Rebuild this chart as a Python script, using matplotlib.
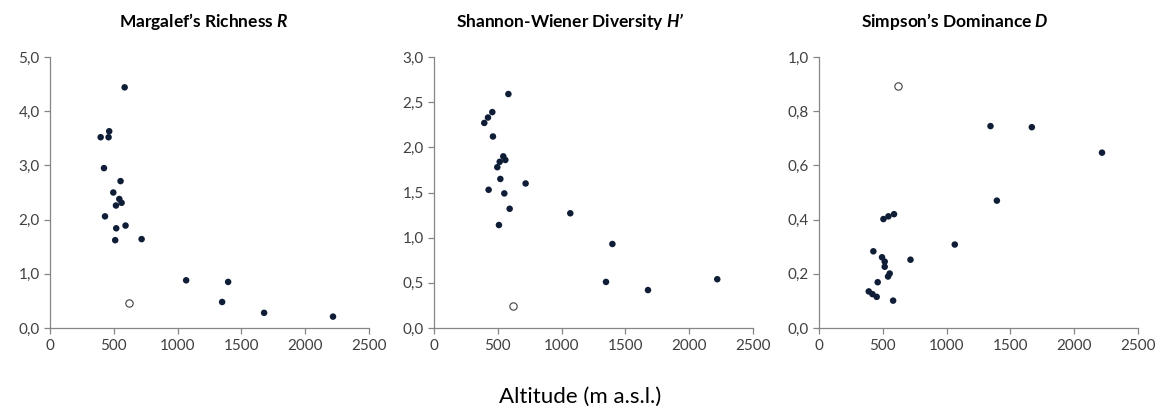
import numpy as np
import matplotlib.pyplot as plt

plt.rcParams["font.family"] = ["Lato", "DejaVu Sans"]
plt.rcParams["mathtext.fontset"] = "custom"
plt.rcParams["mathtext.rm"] = "Lato"
plt.rcParams["mathtext.it"] = "Lato:italic"
plt.rcParams["mathtext.bf"] = "Lato:bold"
plt.rcParams["mathtext.bfit"] = "Lato:bold:italic"

# altitude (m a.s.l.) and index values
richness_alt = [585, 397, 459, 464, 423, 553, 496, 543, 561, 517,
                431, 592, 519, 511, 718, 1067, 1396, 1349, 1678, 2218]
richness_val = [4.44, 3.52, 3.52, 3.63, 2.95, 2.71, 2.50, 2.38, 2.31, 2.26,
                2.06, 1.89, 1.84, 1.62, 1.64, 0.88, 0.85, 0.48, 0.28, 0.21]
richness_open = (621, 0.47)

shannon_alt = [583, 394, 423, 457, 462, 543, 559, 515, 496, 520,
               428, 551, 718, 593, 509, 1068, 1398, 1348, 1677, 2220]
shannon_val = [2.59, 2.27, 2.33, 2.39, 2.12, 1.90, 1.86, 1.84, 1.78, 1.65,
               1.53, 1.49, 1.60, 1.32, 1.14, 1.27, 0.93, 0.51, 0.42, 0.54]
shannon_open = (619, 0.24)

simpson_alt = [1344, 1668, 2218, 1394, 1064, 717, 505, 544, 588, 426,
               494, 515, 515, 554, 541, 460, 390, 419, 452, 581]
simpson_val = [0.745, 0.741, 0.647, 0.470, 0.308, 0.252, 0.402, 0.412, 0.420, 0.283,
               0.261, 0.245, 0.226, 0.201, 0.190, 0.169, 0.135, 0.125, 0.115, 0.101]
simpson_open = (617, 0.894)

titles = [r"Margalef’s Richness $\mathbfit{R}$",
          r"Shannon-Wiener Diversity $\mathbfit{H’}$",
          r"Simpson’s Dominance $\mathbfit{D}$"]
ymax = [5.0, 3.0, 1.0]
ystep = [1.0, 0.5, 0.2]
xticks = [0, 500, 1000, 1500, 2000, 2500]

panels = [
    (richness_alt, richness_val, richness_open),
    (shannon_alt, shannon_val, shannon_open),
    (simpson_alt, simpson_val, simpson_open),
]

fig = plt.figure(figsize=(11.61, 4.16), dpi=100)
lefts = [50 / 1161, 434 / 1161, 819 / 1161]
title_x = [204 / 1161, 570 / 1161, 955 / 1161]
axis_col = "#868686"
text_col = "#404040"

for i, (alt, val, op) in enumerate(panels):
    ax = fig.add_axes([lefts[i], 88 / 416, 319 / 1161, 271 / 416])
    ax.scatter(alt, val, s=22, color="#0f1e36", edgecolors="none", zorder=3)
    ax.scatter([op[0]], [op[1]], s=28, facecolors="white",
               edgecolors="#404040", linewidths=0.8, zorder=3)
    ax.set_xlim(0, 2500)
    ax.set_ylim(0, ymax[i])
    ax.set_xticks(xticks)
    yt = np.round(np.arange(0, ymax[i] + 1e-9, ystep[i]), 2)
    ax.set_yticks(yt)
    ax.set_yticklabels([f"{v:.1f}".replace(".", ",") for v in yt])
    for s in ["top", "right"]:
        ax.spines[s].set_visible(False)
    for s in ["left", "bottom"]:
        ax.spines[s].set_color(axis_col)
        ax.spines[s].set_linewidth(0.9)
    ax.tick_params(axis="both", direction="out", length=4, width=0.9,
                   color=axis_col, labelcolor=text_col, labelsize=11)
    ax.tick_params(axis="x", pad=4)
    fig.text(title_x[i], 394 / 416, titles[i], ha="center", va="center",
             fontsize=12.5, fontweight="bold", color="black")

fig.text(580 / 1161, 19 / 416, "Altitude (m a.s.l.)", ha="center", va="center",
         fontsize=16, color="black")

fig.savefig("out.png", dpi=100)
